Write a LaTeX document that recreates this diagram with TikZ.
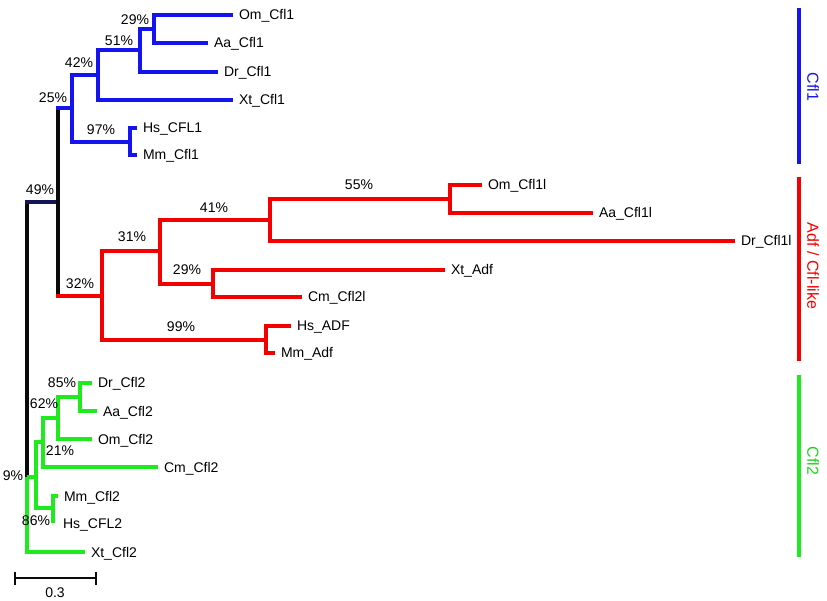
\documentclass[tikz,border=0pt]{standalone}
\usepackage{fontspec}
\setmainfont{Liberation Sans}
\definecolor{tblue}{RGB}{20,20,240}
\definecolor{tred}{RGB}{245,0,0}
\definecolor{tgreen}{RGB}{30,235,30}
\definecolor{tblack}{RGB}{10,10,10}
\definecolor{tnavy}{RGB}{20,20,90}
\definecolor{tgtext}{RGB}{30,210,30}
\begin{document}
\begin{tikzpicture}[x=1pt,y=-1pt,
  every node/.style={font=\fontsize{14}{16}\selectfont, inner sep=0pt, outer sep=0pt},
  edge/.style={line width=3.3pt},
  bluee/.style={edge, draw=tblue},
  rede/.style={edge, draw=tred},
  greene/.style={edge, draw=tgreen},
  blacke/.style={edge, draw=tblack},
  leaf/.style={anchor=base west, xshift=6pt, yshift=-5pt, text=black},
  bs/.style={anchor=base, text=black},
  grpbar/.style={line width=4.3pt},
  grplabel/.style={rotate=-90, anchor=center, font=\fontsize{16}{18}\selectfont}]
\useasboundingbox (0,0) rectangle (827,601);

% ---------- coordinates: internal nodes ----------
\coordinate (root) at (27,477);
\coordinate (n49) at (58,202);
\coordinate (n25) at (72,108);
\coordinate (n42) at (98,75);
\coordinate (n51) at (140,50);
\coordinate (n29) at (154,29);
\coordinate (n97) at (130,142);
\coordinate (n32) at (102,296);
\coordinate (n31) at (160,251);
\coordinate (n41) at (270,220);
\coordinate (n55) at (450,199);
\coordinate (n29r) at (213,284);
\coordinate (n99) at (266,340);
\coordinate (n9) at (36,477);
\coordinate (n21) at (43,442);
\coordinate (n62) at (58,418);
\coordinate (n85) at (80,397);
\coordinate (n86) at (53,508);

% ---------- coordinates: leaves ----------
\coordinate (OmC1) at (233,15);
\coordinate (AaC1) at (208,43);
\coordinate (DrC1) at (218,72);
\coordinate (XtC1) at (233,100);
\coordinate (HsC1) at (137,128);
\coordinate (MmC1) at (137,155);
\coordinate (OmC1l) at (482,185);
\coordinate (AaC1l) at (593,213);
\coordinate (DrC1l) at (735,241);
\coordinate (XtAdf) at (445,270);
\coordinate (CmC2l) at (302,297);
\coordinate (HsADF) at (291,326);
\coordinate (MmAdf) at (275,353);
\coordinate (DrC2) at (92,383);
\coordinate (AaC2) at (97,411);
\coordinate (OmC2) at (92,439);
\coordinate (CmC2) at (158,467);
\coordinate (MmC2) at (58,496);
\coordinate (HsC2) at (53,523);
\coordinate (XtC2) at (85,552);

% ---------- backbone ----------
\draw[blacke] (root) -- (root |- n49);
\draw[edge, draw=tnavy, line cap=rect] (root |- n49) -- (n49);
\draw[blacke] (n49) -- (n49 |- n25);
\draw[blacke] (n49) -- (n49 |- n32);
\draw[bluee, line cap=rect] (n49 |- n25) -- (n25);
\draw[rede, line cap=rect] (n49 |- n32) -- (n32);

% ---------- Cfl1 (blue) ----------
\draw[bluee] (n25) |- (n42);
\draw[bluee] (n25) |- (n97);
\draw[bluee] (n42) |- (n51);
\draw[bluee] (n42) |- (XtC1);
\draw[bluee] (n51) |- (n29);
\draw[bluee] (n51) |- (DrC1);
\draw[bluee] (n29) |- (OmC1);
\draw[bluee] (n29) |- (AaC1);
\draw[bluee] (n97) |- (HsC1);
\draw[bluee] (n97) |- (MmC1);

% ---------- Adf / Cfl-like (red) ----------
\draw[rede] (n32) |- (n31);
\draw[rede] (n32) |- (n99);
\draw[rede] (n31) |- (n41);
\draw[rede] (n31) |- (n29r);
\draw[rede] (n41) |- (n55);
\draw[rede] (n41) |- (DrC1l);
\draw[rede] (n55) |- (OmC1l);
\draw[rede] (n55) |- (AaC1l);
\draw[rede] (n29r) |- (XtAdf);
\draw[rede] (n29r) |- (CmC2l);
\draw[rede] (n99) |- (HsADF);
\draw[rede] (n99) |- (MmAdf);

% ---------- Cfl2 (green) ----------
\draw[greene] (root) -- (n9);
\draw[greene] (root) |- (XtC2);
\draw[greene] (n9) |- (n21);
\draw[greene] (n9) |- (n86);
\draw[greene] (n21) |- (n62);
\draw[greene] (n21) |- (CmC2);
\draw[greene] (n62) |- (n85);
\draw[greene] (n62) |- (OmC2);
\draw[greene] (n85) |- (DrC2);
\draw[greene] (n85) |- (AaC2);
\draw[greene] (n86) |- (MmC2);
\draw[greene] (n86) -- (HsC2);

% ---------- leaf labels ----------
\node[leaf] (lOmC1) at (OmC1) {Om\_Cfl1};
\node[leaf] (lAaC1) at (AaC1) {Aa\_Cfl1};
\node[leaf] (lDrC1) at (DrC1) {Dr\_Cfl1};
\node[leaf] (lXtC1) at (XtC1) {Xt\_Cfl1};
\node[leaf] (lHsC1) at (HsC1) {Hs\_CFL1};
\node[leaf] (lMmC1) at (MmC1) {Mm\_Cfl1};
\node[leaf] (lOmC1l) at (OmC1l) {Om\_Cfl1l};
\node[leaf] (lAaC1l) at (AaC1l) {Aa\_Cfl1l};
\node[leaf] (lDrC1l) at (DrC1l) {Dr\_Cfl1l};
\node[leaf] (lXtAdf) at (XtAdf) {Xt\_Adf};
\node[leaf] (lCmC2l) at (CmC2l) {Cm\_Cfl2l};
\node[leaf] (lHsADF) at (HsADF) {Hs\_ADF};
\node[leaf] (lMmAdf) at (MmAdf) {Mm\_Adf};
\node[leaf] (lDrC2) at (DrC2) {Dr\_Cfl2};
\node[leaf] (lAaC2) at (AaC2) {Aa\_Cfl2};
\node[leaf] (lOmC2) at (OmC2) {Om\_Cfl2};
\node[leaf] (lCmC2) at (CmC2) {Cm\_Cfl2};
\node[leaf] (lMmC2) at (MmC2) {Mm\_Cfl2};
\node[leaf] (lHsC2) at ([xshift=4pt]HsC2) {Hs\_CFL2};
\node[leaf] (lXtC2) at (XtC2) {Xt\_Cfl2};

% ---------- bootstrap values ----------
\node[bs] (b29) at (135,25) {29\%};
\node[bs] (b51) at (119,46) {51\%};
\node[bs] (b42) at (79,68) {42\%};
\node[bs] (b25) at (53,103) {25\%};
\node[bs] (b97) at (101,135) {97\%};
\node[bs] (b49) at (40,195) {49\%};
\node[bs] (b55) at (359,190) {55\%};
\node[bs] (b41) at (214,213) {41\%};
\node[bs] (b31) at (132,242) {31\%};
\node[bs] (b29r) at (187,275) {29\%};
\node[bs] (b32) at (80,289) {32\%};
\node[bs] (b99) at (181,332) {99\%};
\node[bs] (b85) at (62,388) {85\%};
\node[bs] (b62) at (44,408) {62\%};
\node[bs] (b21) at (60,455) {21\%};
\node[bs] (b9) at (13,480) {9\%};
\node[bs] (b86) at (36,525) {86\%};

% ---------- group bars ----------
\coordinate (g1a) at (799,8);
\coordinate (g1b) at (799,164);
\coordinate (g2a) at (799,177);
\coordinate (g2b) at (799,361);
\coordinate (g3a) at (799,375);
\coordinate (g3b) at (799,557);
\draw[grpbar, draw=tblue] (g1a) -- (g1b);
\draw[grpbar, draw=tred] (g2a) -- (g2b);
\draw[grpbar, draw=tgreen] (g3a) -- (g3b);
\node[grplabel, text=tblue] (gl1) at (813,87) {Cfl1};
\node[grplabel, text=tred] (gl2) at (813,266) {Adf / Cfl-like};
\node[grplabel, text=tgtext] (gl3) at (813,461) {Cfl2};

% ---------- scale bar ----------
\coordinate (sbL) at (15,578);
\coordinate (sbR) at (96,578);
\draw[line width=2.5pt, draw=tblack] (sbL) -- (sbR);
\draw[line width=2.5pt, draw=tblack] ([yshift=6.5pt]sbL) -- ([yshift=-6.5pt]sbL);
\draw[line width=2.5pt, draw=tblack] ([yshift=6.5pt]sbR) -- ([yshift=-6.5pt]sbR);
\node[bs] (sbT) at (55,597) {0.3};
\end{tikzpicture}
\end{document}
